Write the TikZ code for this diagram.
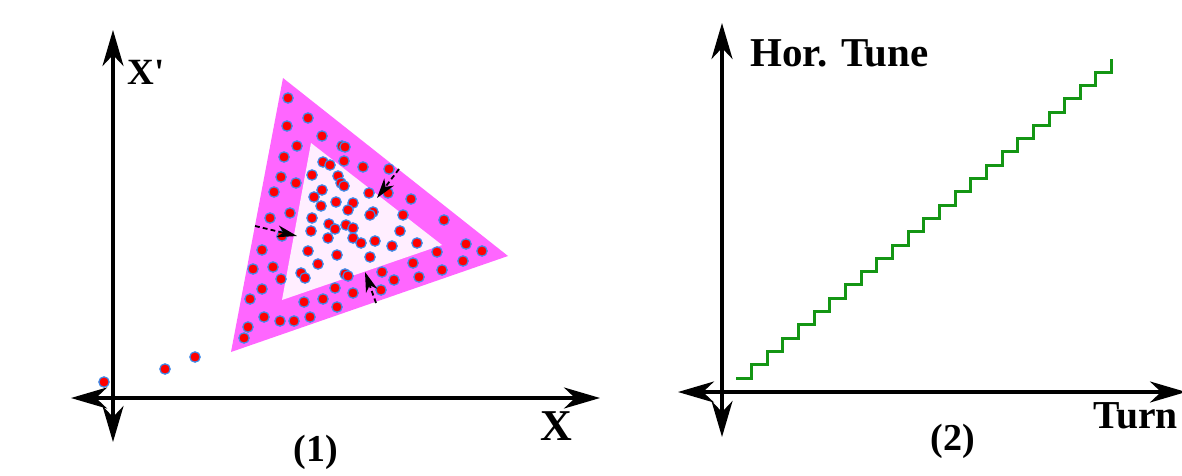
\documentclass[tikz,border=0pt]{standalone}
\usepackage{fontspec}
\setmainfont{Liberation Serif}
\newfontfamily\primefont{Liberation Serif}[Ligatures=TeXOff]
\usetikzlibrary{arrows.meta}
\definecolor{beammag}{RGB}{255,102,255}
\definecolor{corepink}{RGB}{255,238,255}
\definecolor{dotblue}{RGB}{60,140,235}
\definecolor{tunegreen}{RGB}{20,150,20}
\tikzset{
  axis/.style={line width=1.7pt,{Stealth[length=18pt,width=10.5pt,inset=5.5pt]}-{Stealth[length=18pt,width=10.5pt,inset=5.5pt]}},
  shrink/.style={line width=0.9pt,dash pattern=on 2.4pt off 1.6pt,-{Stealth[length=10pt,width=6pt,inset=3pt]}},
  dot/.style={circle,fill=red,draw=dotblue,line width=0.6pt,inner sep=0pt,minimum size=5.2pt},
  lbl/.style={inner sep=0pt,font=\bfseries},
  tune/.style={tunegreen,line width=1.5pt}
}
\begin{document}
\begin{tikzpicture}[x=0.5pt,y=-0.5pt]
    \useasboundingbox (0,0) rectangle (1182,476);

    % Panel (1): phase space
    \fill[beammag] (283,78) -- (508,256) -- (231,352) -- cycle;
    \fill[corepink] (311,143) -- (442,245) -- (282,300) -- cycle;

    % Axes of panel (1)
    \coordinate (xl) at (71,398);
    \coordinate (xr) at (600,398);
    \coordinate (yt) at (113,30);
    \coordinate (yb) at (113,442);
    \draw[axis] (xl) -- (xr);
    \draw[axis] (yb) -- (yt);
    \node[lbl,anchor=base west,font=\bfseries\fontsize{22}{26}\selectfont] (xlab) at (540,440) {X};
    \node[lbl,anchor=base west,font=\primefont\bfseries\fontsize{18.5}{22}\selectfont] (xplab) at (127,85) {X'};
    \node[lbl,anchor=base,font=\bfseries\fontsize{19}{23}\selectfont] (capA) at (316,461) {(1)};

    % Particles
    \foreach \p [count=\k] in {(288,98),(308,118),(287,126),(322,136),(297,146),(342,146),(345,147),
        (284,157),(323,162),(330,165),(344,161),(363,167),(389,169),(281,177),(312,175),(338,176),
        (296,183),(341,183),(344,186),(322,190),(274,192),(369,193),(388,193),(314,197),(411,199),
        (336,202),(353,203),(321,206),(348,210),(290,213),(373,212),(370,215),(403,215),(270,218),
        (312,218),(444,220),(329,224),(346,225),(335,229),(353,228),(311,231),(400,231),(282,236),
        (328,238),(353,238),(361,243),(375,241),(392,246),(417,243),(466,244),(482,251),(262,250),
        (308,251),(437,252),(337,255),(370,257),(273,267),(253,269),(318,264),(413,263),(463,261),
        (442,270),(301,273),(305,278),(281,279),(345,274),(348,276),(382,272),(419,277),(394,280),
        (262,289),(335,288),(381,290),(353,293),(250,299),(304,302),(323,299),(337,307),(264,317),
        (280,321),(294,321),(310,317),(248,327),(244,338),(104,382),(165,369),(195,357)}
    \node[dot] (d\k) at \p {};

    % Shrinking arrows
    \coordinate (s1) at (255,226);
    \coordinate (e1) at (297,236);
    \coordinate (s2) at (399,169);
    \coordinate (e2) at (377,198);
    \coordinate (s3) at (376,303);
    \coordinate (e3) at (365,272);
    \draw[shrink] (s1) -- (e1);
    \draw[shrink] (s2) -- (e2);
    \draw[shrink] (s3) -- (e3);

    % Panel (2): tune vs turn
    \coordinate (tl) at (678,392);
    \coordinate (tr) at (1186,392);
    \coordinate (qt) at (722,23);
    \coordinate (qb) at (722,437);
    \draw[axis] (tl) -- (tr);
    \draw[axis] (qb) -- (qt);
    \node[lbl,anchor=base west,font=\bfseries\fontsize{20.5}{24}\selectfont] (qlab) at (750,67) {Hor. Tune};
    \node[lbl,anchor=base west,font=\bfseries\fontsize{19.8}{24}\selectfont] (tlab) at (1093,428) {Turn};
    \node[lbl,anchor=base,font=\bfseries\fontsize{19}{23}\selectfont] (capB) at (953,450) {(2)};

    % Staircase
    \draw[tune] (736,378) \foreach \i in {1,...,24}{ -- ++(15.65,0) -- ++(0,-13.3) };
\end{tikzpicture}
\end{document}
